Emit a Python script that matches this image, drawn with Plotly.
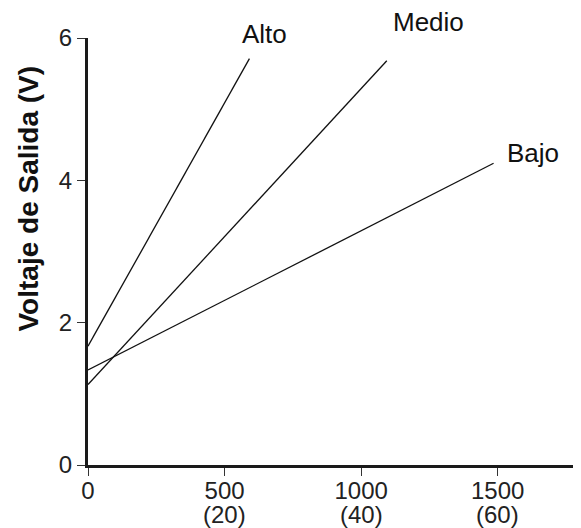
import plotly.graph_objects as go

# Data
series_names = ["Alto", "Medio", "Bajo"]
alto_x = [0, 591]
alto_y = [1.67, 5.71]
medio_x = [0, 1094]
medio_y = [1.13, 5.68]
bajo_x = [0, 1485]
bajo_y = [1.335, 4.24]

label_x = [645, 1245, 1628]
label_y = [6.06, 6.23, 4.38]

X_MAX = 1805
Y_MAX = 6
x_tickvals = [0, 500, 1000, 1500]
x_ticktext = ["0", "500", "1000", "1500"]
x_subvals = [500, 1000, 1500]
x_subtext = ["(20)", "(40)", "(60)"]
y_tickvals = [0, 2, 4, 6]
y_title = "Voltaje de Salida (V)"
y_title_pos = 3.745

FONT = "Liberation Sans, Arial, Helvetica, sans-serif"

fig = go.Figure()
for xs, ys in [(alto_x, alto_y), (medio_x, medio_y), (bajo_x, bajo_y)]:
    fig.add_trace(go.Scatter(x=xs, y=ys, mode="lines",
                             line=dict(color="#111111", width=1.3),
                             showlegend=False, hoverinfo="skip", cliponaxis=False))

annotations = []
for name, lx, ly in zip(series_names, label_x, label_y):
    annotations.append(dict(x=lx, y=ly / Y_MAX, xref="x", yref="paper", text=name, showarrow=False,
                            font=dict(family=FONT, size=26, color="#111111"),
                            xanchor="center", yanchor="middle"))
for sx, st in zip(x_subvals, x_subtext):
    annotations.append(dict(x=sx, y=0, xref="x", yref="paper", text=st, showarrow=False,
                            font=dict(family=FONT, size=24, color="#222222"),
                            xanchor="center", yanchor="middle", yshift=-49))
annotations.append(dict(x=0, y=y_title_pos / Y_MAX, xref="paper", yref="paper",
                        text="<b>" + y_title + "</b>",
                        showarrow=False, textangle=-90,
                        font=dict(family=FONT, size=28, color="#111111"),
                        xanchor="center", yanchor="middle", xshift=-60))

fig.update_layout(
    width=573, height=520,
    margin=dict(l=80, r=0, t=30, b=63),
    paper_bgcolor="white", plot_bgcolor="white",
    annotations=annotations,
    xaxis=dict(range=[0, X_MAX], tickvals=x_tickvals, ticktext=x_ticktext,
               showgrid=False, zeroline=False, showline=True, linecolor="#1a1a1a", linewidth=3,
               ticks="outside", ticklen=8, tickwidth=1, tickcolor="#333333",
               ticklabelstandoff=-6, automargin=False,
               tickfont=dict(family=FONT, size=24, color="#222222")),
    yaxis=dict(range=[0, Y_MAX], tickvals=y_tickvals,
               showgrid=False, zeroline=False, showline=True, linecolor="#1a1a1a", linewidth=3,
               ticks="outside", ticklen=8, tickwidth=1, tickcolor="#333333",
               automargin=False,
               tickfont=dict(family=FONT, size=24, color="#222222")),
)

fig.write_html("out.html")
